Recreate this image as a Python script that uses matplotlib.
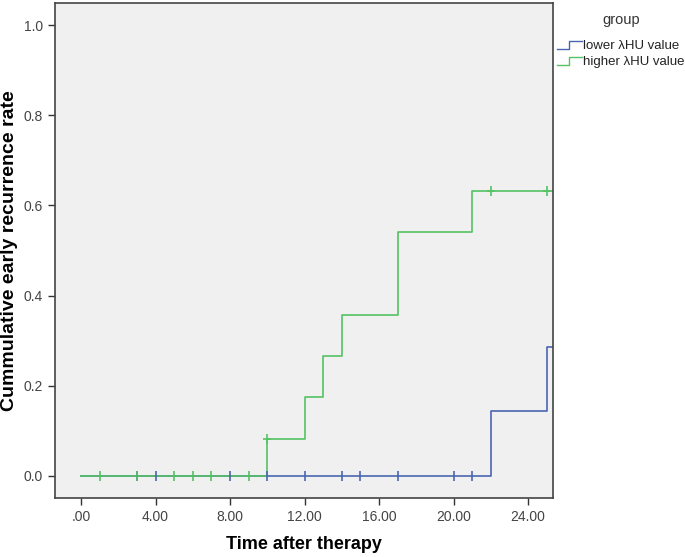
import numpy as np
import matplotlib
matplotlib.use('Agg')
import matplotlib.pyplot as plt
from matplotlib.legend_handler import HandlerBase
from matplotlib.lines import Line2D

plt.rcParams['font.family'] = ['Liberation Sans', 'DejaVu Sans']

# step data (time, cumulative rate)
lower_t = [0, 22, 25, 25.3]
lower_y = [0.0, 0.143, 0.286, 0.286]
lower_cens = [3, 4, 8, 10, 12, 14, 15, 17, 20, 21]

higher_t = [0, 10, 12, 13, 14, 17, 21, 25.3]
higher_y = [0.0, 0.083, 0.175, 0.267, 0.358, 0.542, 0.633, 0.633]
higher_cens = [1, 3, 5, 6, 7, 9, 10, 22, 25]

xticks = [0, 4, 8, 12, 16, 20, 24]
xlabels = ['.00', '4.00', '8.00', '12.00', '16.00', '20.00', '24.00']
yticks = [0.0, 0.2, 0.4, 0.6, 0.8, 1.0]

blue = '#4a66b0'
green = '#55c264'


def step_value(ts, ys, x):
    idx = np.searchsorted(ts, x, side='right') - 1
    return ys[idx]


class StepHandler(HandlerBase):
    def create_artists(self, legend, orig_handle, xdescent, ydescent,
                       width, height, fontsize, trans):
        w = width
        h = height
        xs = [0, 0.45 * w, 0.45 * w, w]
        ys = [0.0, 0.0, h, h]
        ln = Line2D(xs, ys, color=orig_handle.get_color(), lw=1.0, transform=trans)
        return [ln]


fig = plt.figure(figsize=(6.85, 5.57), dpi=100)
ax = fig.add_axes([0.0803, 0.1059, 0.727, 0.8887])
ax.set_facecolor('#f0f0f0')

l1, = ax.step(lower_t, lower_y, where='post', color=blue, lw=1.2)
l2, = ax.step(higher_t, higher_y, where='post', color=green, lw=1.2)

for c in lower_cens:
    ax.plot(c, step_value(lower_t, lower_y, c), marker='|', ms=7, mew=1.2, color=blue)
for c in higher_cens:
    ax.plot(c, step_value(higher_t, higher_y, c), marker='|', ms=7, mew=1.2, color=green)
# horizontal bars of the "+" markers on the green curve above zero
for c in higher_cens:
    v = step_value(higher_t, higher_y, c)
    if v > 0:
        ax.plot(c, v, marker='_', ms=6, mew=1.2, color=green)

ax.set_xlim(-1.4, 25.34)
ax.set_ylim(-0.049, 1.049)
ax.set_xticks(xticks)
ax.set_xticklabels(xlabels)
ax.set_yticks(yticks)
ax.set_yticklabels(['0.0', '0.2', '0.4', '0.6', '0.8', '1.0'])
ax.tick_params(direction='out', length=5, width=1, colors='#333333', labelsize=10,
               labelcolor='#444444')
for s in ax.spines.values():
    s.set_color('#444444')
    s.set_linewidth(1.2)

ax.set_xlabel('Time after therapy', fontsize=13, fontweight='bold')
ax.set_ylabel('Cummulative early recurrence rate', fontsize=14, fontweight='bold')
ax.xaxis.set_label_coords(0.5, -0.077)
ax.yaxis.set_label_coords(-0.075, 0.5)

leg = fig.legend([l1, l2], ['lower \u03bbHU value', 'higher \u03bbHU value'],
                 handler_map={Line2D: StepHandler()},
                 loc='upper left', bbox_to_anchor=(0.802, 0.99),
                 frameon=False, fontsize=9.5, handlelength=1.9, handleheight=0.55,
                 handletextpad=0.05, labelspacing=0.3, title='group',
                 title_fontsize=10.5, borderaxespad=0.2)
leg._legend_box.sep = 9
leg.get_title().set_color('#333333')
for t in leg.get_texts():
    t.set_color('#222222')

fig.savefig('out.png', dpi=100)
